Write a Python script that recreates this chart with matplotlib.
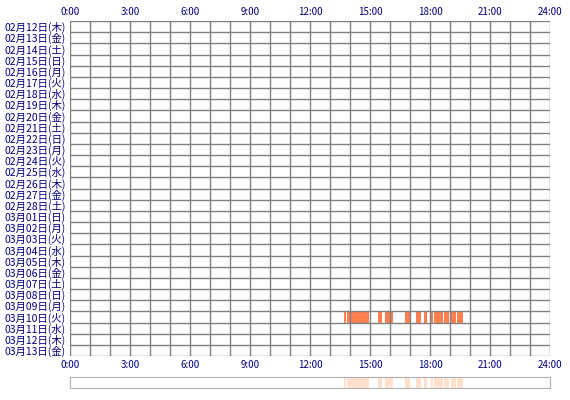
import matplotlib
matplotlib.use("Agg")
import matplotlib.pyplot as plt

plt.rcParams['font.family'] = ['Noto Sans CJK JP', 'DejaVu Sans']

days = ["02月12日(木)", "02月13日(金)", "02月14日(土)", "02月15日(日)", "02月16日(月)",
        "02月17日(火)", "02月18日(水)", "02月19日(木)", "02月20日(金)", "02月21日(土)",
        "02月22日(日)", "02月23日(月)", "02月24日(火)", "02月25日(水)", "02月26日(木)",
        "02月27日(金)", "02月28日(土)", "03月01日(日)", "03月02日(月)", "03月03日(火)",
        "03月04日(水)", "03月05日(木)", "03月06日(金)", "03月07日(土)", "03月08日(日)",
        "03月09日(月)", "03月10日(火)", "03月11日(水)", "03月12日(木)", "03月13日(金)"]
tick_labels = ["0:00", "3:00", "6:00", "9:00", "12:00", "15:00", "18:00", "21:00", "24:00"]
active_day = "03月10日(火)"
# (start hour, end hour)
segments = [(13.70, 13.78), (13.83, 14.95), (15.40, 15.60), (15.75, 16.15),
            (16.75, 17.00), (17.30, 17.55), (17.70, 17.85), (18.03, 18.17),
            (18.22, 18.63), (18.70, 18.97), (19.03, 19.30), (19.37, 19.63)]

W, H = 570, 400
fig = plt.figure(figsize=(W / 100, H / 100), dpi=100)
ax = fig.add_axes([70 / W, 1 - 356 / H, 480 / W, 335 / H])
n = len(days)
ax.set_xlim(0, 24)
ax.set_ylim(n, 0)
row = days.index(active_day)
for s, e in segments:
    ax.barh(row + 0.5, e - s, left=s, height=1.0, color='#ff7f50', linewidth=0)
for h in range(25):
    ax.axvline(h, color='#808080', lw=1.0)
for i in range(n + 1):
    ax.axhline(i, color='#808080', lw=1.0)
ax.set_yticks([i + 0.5 for i in range(n)])
ax.set_yticklabels(days, fontsize=7.5, color='#000080')
ax.set_xticks(range(0, 25, 3))
ax.set_xticklabels(tick_labels, fontsize=7, color='#000080')
ax.tick_params(length=0, pad=3, top=True, labeltop=True)
for sp in ax.spines.values():
    sp.set_visible(False)

ax2 = fig.add_axes([70 / W, 1 - 388 / H, 480 / W, 11 / H])
ax2.set_xlim(0, 24)
ax2.set_ylim(0, 1)
for s, e in segments:
    ax2.barh(0.5, e - s, left=s, height=1, color='#ffe0cc', linewidth=0)
ax2.set_xticks([])
ax2.set_yticks([])
for sp in ax2.spines.values():
    sp.set_color('#b0b0b0')

fig.savefig("out.png", dpi=100)
